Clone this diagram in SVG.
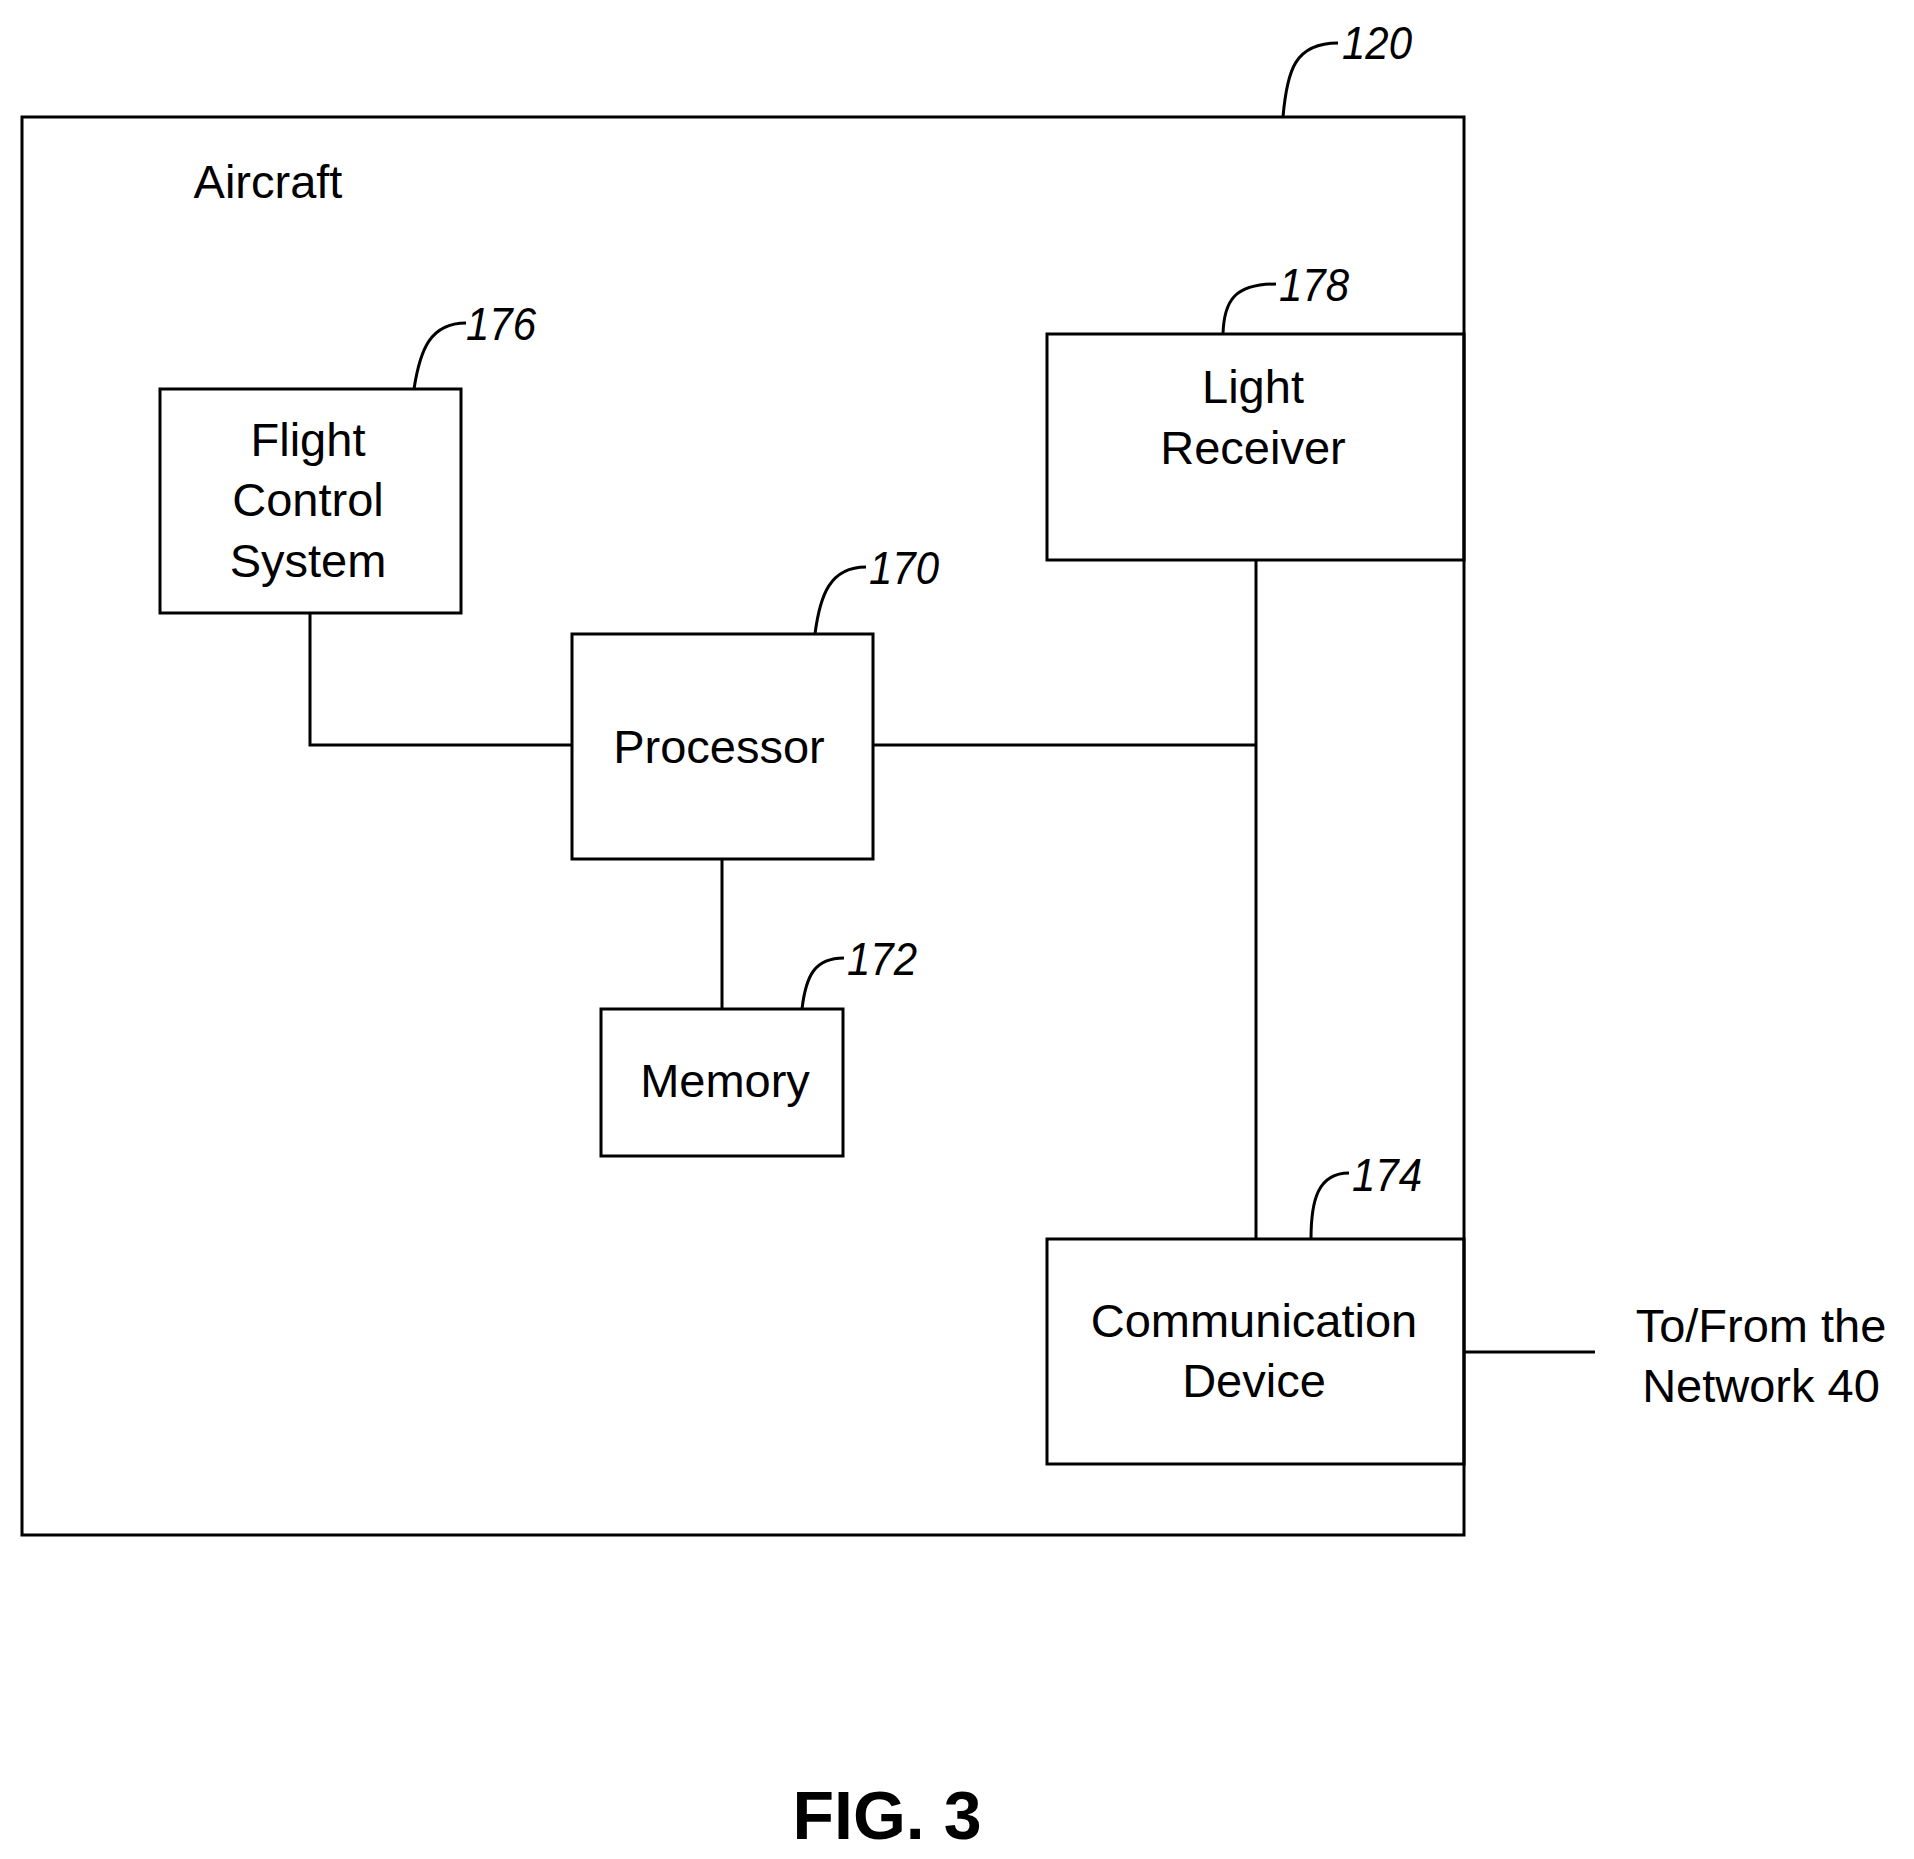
<svg xmlns="http://www.w3.org/2000/svg" width="1914" height="1859" viewBox="0 0 1914 1859">
<style>
.b{fill:none;stroke:#000;stroke-width:3}
.t{font-family:"Liberation Sans",Arial,sans-serif;font-size:47px;text-anchor:middle;fill:#000}
.r{font-family:"Liberation Sans",Arial,sans-serif;font-size:46px;font-style:italic;fill:#000}
.l{fill:none;stroke:#000;stroke-width:3}
</style>
<rect width="1914" height="1859" fill="#fff"/>
<g id="aircraft"><rect class="b" x="22" y="117" width="1442" height="1418"/>
<text class="t" x="268" y="198">Aircraft</text>
<path class="l" d="M1283,117 C1287,70 1295,43 1338,43"/><text class="r" x="1342" y="59" textLength="70" lengthAdjust="spacingAndGlyphs">120</text></g>
<g id="flight"><rect class="b" x="160" y="389" width="301" height="224"/>
<text class="t" x="308" y="456">Flight</text><text class="t" x="308" y="516">Control</text><text class="t" x="308" y="577">System</text>
<path class="l" d="M414,389 C420,350 430,323 466,323"/><text class="r" x="466" y="340" textLength="70" lengthAdjust="spacingAndGlyphs">176</text></g>
<g id="processor"><rect class="b" x="572" y="634" width="301" height="225"/>
<text class="t" x="719" y="763">Processor</text>
<path class="l" d="M815,634 C820,595 830,567 866,567"/><text class="r" x="869" y="584" textLength="70" lengthAdjust="spacingAndGlyphs">170</text></g>
<g id="memory"><rect class="b" x="601" y="1009" width="242" height="147"/>
<text class="t" x="725" y="1097">Memory</text>
<path class="l" d="M802,1009 C806,975 815,958 844,958"/><text class="r" x="847" y="975" textLength="70" lengthAdjust="spacingAndGlyphs">172</text></g>
<g id="light"><rect class="b" x="1047" y="334" width="417" height="226"/>
<text class="t" x="1253" y="403">Light</text><text class="t" x="1253" y="464">Receiver</text>
<path class="l" d="M1223,334 C1224,300 1235,284 1276,284"/><text class="r" x="1279" y="301" textLength="70" lengthAdjust="spacingAndGlyphs">178</text></g>
<g id="comm"><rect class="b" x="1047" y="1239" width="417" height="225"/>
<text class="t" x="1254" y="1337">Communication</text><text class="t" x="1254" y="1397">Device</text>
<path class="l" d="M1311,1239 C1311,1200 1318,1173 1349,1173"/><text class="r" x="1352" y="1191" textLength="70" lengthAdjust="spacingAndGlyphs">174</text></g>
<g id="network"><text class="t" x="1761" y="1342">To/From the</text><text class="t" x="1761" y="1402">Network 40</text></g>
<g id="connectors" class="l">
<path d="M310,613 V745 H572"/>
<path d="M873,745 H1256"/>
<path d="M1256,560 V1239"/>
<path d="M722,859 V1009"/>
<path d="M1464,1352 H1595"/>
</g>
<text x="887" y="1839" style="font-family:'Liberation Sans',Arial,sans-serif;font-size:68px;font-weight:bold;text-anchor:middle">FIG. 3</text>
</svg>
